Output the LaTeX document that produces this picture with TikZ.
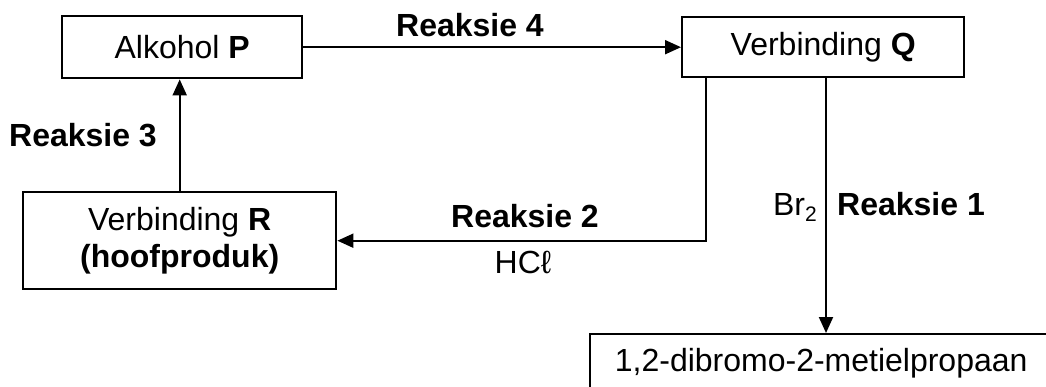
\documentclass[tikz,border=0pt]{standalone}
\usepackage{fontspec}
\setmainfont{Liberation Sans}
\usetikzlibrary{arrows.meta,calc}
\begin{document}
\begin{tikzpicture}[x=1pt,y=-1pt,
  font=\fontsize{32pt}{37pt}\selectfont,
  box/.style={draw,line width=2.4pt,inner sep=0pt,anchor=north west,align=center},
  lbl/.style={inner sep=0pt},
  arr/.style={line width=2pt,-{Triangle[length=16pt,width=14pt]}},
  ln/.style={line width=2pt}]
\useasboundingbox (0,0) rectangle (1046,387);
\clip (0,0) rectangle (1046,387);
\node[box,minimum width=240pt,minimum height=62pt] (P) at (61,15) {Alkohol \textbf{P}};
\node[box,minimum width=282pt,minimum height=60pt] (Q) at (681,16) {Verbinding \textbf{Q}};
\node[box,minimum width=313pt,minimum height=97pt] (R) at (22,191) {Verbinding \textbf{R}\\\textbf{(hoofproduk)}};
\node[box,minimum width=462pt,minimum height=58pt] (D) at (589,333) {1,2-dibromo-2-metielpropaan};
\coordinate (q1) at ([xshift=25pt]Q.south west);
\coordinate (q2) at ([xshift=145pt]Q.south west);
\draw[arr] (P.east) -- (Q.west);
\draw[arr] (R.north) -- (R.north |- P.south);
\draw[arr] (q1) |- (R.east);
\draw[arr] (q2) -- (q2 |- D.north);
\node[lbl,anchor=base] (L4) at (470,37) {\textbf{Reaksie 4}};
\node[lbl,anchor=base] (L3) at (83,147) {\textbf{Reaksie 3}};
\node[lbl,anchor=base] (L2) at (525,228) {\textbf{Reaksie 2}};
\node[lbl,anchor=base] (HCl) at (523,273) {HCℓ};
\node[lbl,anchor=base east] (Br) at (817,216) {Br\raisebox{-0.3ex}{\fontsize{21pt}{21pt}\selectfont 2}};
\node[lbl,anchor=base west] (L1) at (837,216) {\textbf{Reaksie 1}};
\end{tikzpicture}
\end{document}
